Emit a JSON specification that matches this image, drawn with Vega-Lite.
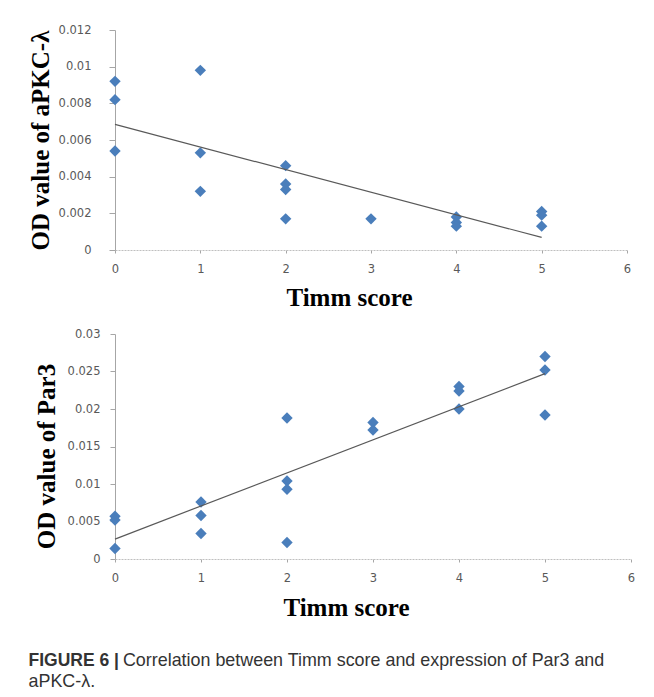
{
  "$schema": "https://vega.github.io/schema/vega-lite/v6.json",
  "background": "white",
  "padding": {"left": 28, "top": 24, "right": 10, "bottom": 5},
  "config": {
    "view": {"stroke": null},
    "axis": {
      "grid": false,
      "labelFont": "DejaVu Sans",
      "labelFontSize": 11.5,
      "labelColor": "#595959",
      "labelOverlap": false,
      "labelFlush": false,
      "titleFont": "Liberation Serif",
      "titleFontSize": 25,
      "titleFontWeight": "bold",
      "titleColor": "#000000",
      "domainColor": "#a6a6a6",
      "tickColor": "#a6a6a6"
    }
  },
  "datasets": {
    "apkc": [
      {"timm": 0, "od": 0.0092}, {"timm": 0, "od": 0.0082}, {"timm": 0, "od": 0.0054},
      {"timm": 1, "od": 0.0098}, {"timm": 1, "od": 0.0053}, {"timm": 1, "od": 0.0032},
      {"timm": 2, "od": 0.0046}, {"timm": 2, "od": 0.0036}, {"timm": 2, "od": 0.0033}, {"timm": 2, "od": 0.0017},
      {"timm": 3, "od": 0.0017},
      {"timm": 4, "od": 0.0018}, {"timm": 4, "od": 0.0015}, {"timm": 4, "od": 0.0013},
      {"timm": 5, "od": 0.0021}, {"timm": 5, "od": 0.0019}, {"timm": 5, "od": 0.0013}
    ],
    "par3": [
      {"timm": 0, "od": 0.0057}, {"timm": 0, "od": 0.0052}, {"timm": 0, "od": 0.0014},
      {"timm": 1, "od": 0.0076}, {"timm": 1, "od": 0.0058}, {"timm": 1, "od": 0.0034},
      {"timm": 2, "od": 0.0188}, {"timm": 2, "od": 0.0104}, {"timm": 2, "od": 0.0093}, {"timm": 2, "od": 0.0022},
      {"timm": 3, "od": 0.0182}, {"timm": 3, "od": 0.0172},
      {"timm": 4, "od": 0.0230}, {"timm": 4, "od": 0.0224}, {"timm": 4, "od": 0.0200},
      {"timm": 5, "od": 0.0270}, {"timm": 5, "od": 0.0252}, {"timm": 5, "od": 0.0192}
    ]
  },
  "title": {
    "text": "FIGURE 6 |",
    "subtitle": ["\u200b\u00a0\u00a0\u00a0\u00a0\u00a0\u00a0\u00a0\u00a0\u00a0\u00a0\u00a0\u00a0\u00a0\u00a0\u00a0\u00a0\u00a0\u00a0\u00a0Correlation between Timm score and expression of Par3 and", "aPKC-λ."],
    "orient": "bottom",
    "anchor": "start",
    "frame": "bounds",
    "dx": 0,
    "font": "Liberation Sans",
    "fontSize": 17.5,
    "fontWeight": "bold",
    "color": "#333333",
    "subtitleFont": "Liberation Sans",
    "subtitleFontSize": 17.9,
    "subtitleFontWeight": "normal",
    "subtitleColor": "#333333",
    "subtitleLineHeight": 21,
    "subtitlePadding": -18,
    "offset": 32
  },
  "spacing": 18,
  "vconcat": [
    {
      "width": 512,
      "height": 220,
      "encoding": {
        "x": {"field": "timm", "type": "quantitative", "scale": {"domain": [0, 6], "nice": false},
          "axis": {"values": [0, 1, 2, 3, 4, 5, 6], "format": "d", "title": "Timm score", "tickSize": 3, "labelPadding": 10, "domainColor": "#bfbfbf", "domainDash": [2, 1],
            "titleX": 234, "titleY": 55, "titleBaseline": "alphabetic", "titleAlign": "center"}},
        "y": {"field": "od", "type": "quantitative", "scale": {"domain": [0, 0.012], "nice": false},
          "axis": {"values": [0, 0.002, 0.004, 0.006, 0.008, 0.01, 0.012], "format": "~g", "title": "OD value of aPKC-λ", "tickSize": 6, "labelPadding": 18,
            "titleX": -66.5, "titleY": 110, "titleBaseline": "alphabetic", "titleAlign": "center"}}
      },
      "layer": [
        {
          "data": {"name": "apkc"},
          "mark": {"type": "point", "shape": "diamond", "filled": true, "size": 130, "color": "#4a7ebb", "opacity": 1}
        },
        {
          "data": {"name": "apkc"},
          "transform": [{"regression": "od", "on": "timm", "extent": [0, 5]}],
          "mark": {"type": "line", "color": "#595959", "strokeWidth": 1.2}
        }
      ]
    },
    {
      "width": 516,
      "height": 225,
      "encoding": {
        "x": {"field": "timm", "type": "quantitative", "scale": {"domain": [0, 6], "nice": false},
          "axis": {"values": [0, 1, 2, 3, 4, 5, 6], "format": "d", "title": "Timm score", "tickSize": 3, "labelPadding": 10, "domainColor": "#bfbfbf", "domainDash": [2, 1],
            "titleX": 231, "titleY": 56, "titleBaseline": "alphabetic", "titleAlign": "center"}},
        "y": {"field": "od", "type": "quantitative", "scale": {"domain": [0, 0.03], "nice": false},
          "axis": {"values": [0, 0.005, 0.01, 0.015, 0.02, 0.025, 0.03], "format": "~g", "title": "OD value of Par3", "tickSize": 5, "labelPadding": 10,
            "titleX": -60.5, "titleY": 122, "titleBaseline": "alphabetic", "titleAlign": "center"}}
      },
      "layer": [
        {
          "data": {"name": "par3"},
          "mark": {"type": "point", "shape": "diamond", "filled": true, "size": 130, "color": "#4a7ebb", "opacity": 1}
        },
        {
          "data": {"name": "par3"},
          "transform": [{"regression": "od", "on": "timm", "extent": [0, 5]}],
          "mark": {"type": "line", "color": "#595959", "strokeWidth": 1.2}
        }
      ]
    }
  ]
}
